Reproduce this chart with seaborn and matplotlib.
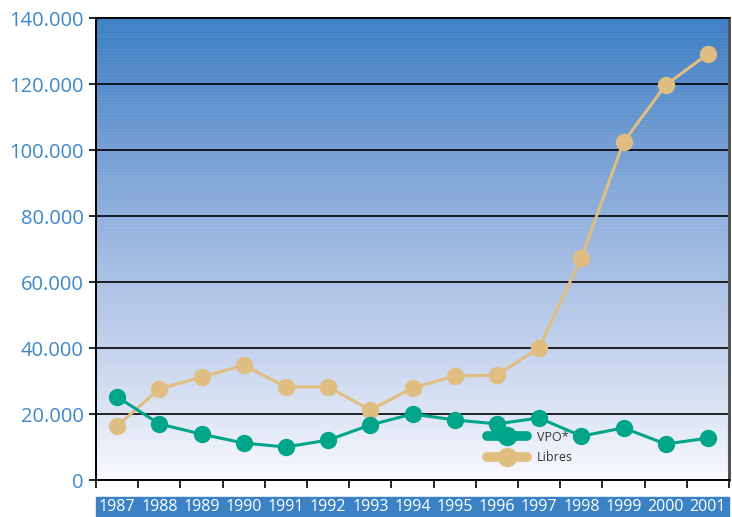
import matplotlib
matplotlib.use("Agg")
import matplotlib.pyplot as plt
import numpy as np
import pandas as pd
import seaborn as sns
from matplotlib.colors import LinearSegmentedColormap
from matplotlib.lines import Line2D
from matplotlib.patches import Rectangle

years = [str(y) for y in range(1987, 2002)]
vpo = [25200, 17000, 13900, 11200, 10000, 12100, 16700, 20000,
       18200, 17000, 18800, 13300, 15800, 10900, 12700]
libres = [16400, 27600, 31200, 34800, 28200, 28200, 21200, 27900,
          31500, 31800, 40000, 67300, 102400, 119700, 129100]
y_ticks = [0, 20000, 40000, 60000, 80000, 100000, 120000, 140000]
y_labels = ["0", "20.000", "40.000", "60.000", "80.000", "100.000", "120.000", "140.000"]

TEAL = "#00a58a"
TAN = "#e0bd80"
BLUE_TXT = "#3d87c8"

sns.set_style("white")
plt.rcParams["font.family"] = ["Open Sans", "DejaVu Sans"]

df = pd.DataFrame({
    "year": years * 2,
    "value": vpo + libres,
    "serie": ["VPO*"] * len(years) + ["Libres"] * len(years),
})

fig = plt.figure(figsize=(7.32, 5.17), dpi=100)

# blue band behind the year labels
fig.patches.append(Rectangle((96 / 732, 0), 633 / 732, 20 / 517,
                             transform=fig.transFigure, color="#3a82c4", zorder=-5))

ax = fig.add_axes([96 / 732, 37 / 517, 633 / 732, 462 / 517])

# gradient background with faint stripes
cmap = LinearSegmentedColormap.from_list(
    "bg", ["#f8f9fd", "#c9d6ee", "#9fb9e2", "#6d9ad2", "#3b7fc3"])
rows = 300
grad = np.linspace(0, 1, rows)
stripes = np.where(np.arange(rows) % 2 == 0, 0.0, 0.04)
img = np.clip(grad - stripes * grad, 0, 1)[:, None]
ax.imshow(img, aspect="auto", cmap=cmap, origin="lower",
          extent=(-0.5, 14.5, 0, 140000), zorder=0, interpolation="nearest")

for t in y_ticks[1:-1]:
    ax.axhline(t, color="black", lw=1.2, zorder=1)

sns.lineplot(data=df, x="year", y="value", hue="serie",
             palette={"VPO*": TEAL, "Libres": TAN},
             hue_order=["Libres", "VPO*"],
             marker="o", markersize=12.5, markeredgewidth=0,
             linewidth=2.2, ax=ax, legend=False, zorder=3)

ax.set_xlim(-0.5, 14.5)
ax.set_ylim(0, 140000)
ax.set_xlabel("")
ax.set_ylabel("")
ax.set_yticks(y_ticks)
ax.set_yticklabels(y_labels, color=BLUE_TXT, fontsize=14.5)
ax.tick_params(axis="y", length=5, width=1.2, color="black", left=True, pad=4)

ax.set_xticks(range(len(years)))
ax.set_xticklabels(years, color="white", fontsize=11.5)
ax.set_xticks(np.arange(-0.5, 15, 1), minor=True)
ax.tick_params(axis="x", which="major", length=0, pad=14)
ax.tick_params(axis="x", which="minor", length=6, width=1.2, color="black", bottom=True)

for side in ["left", "bottom", "top"]:
    ax.spines[side].set_color("black")
    ax.spines[side].set_linewidth(1.4)
ax.spines["right"].set_color("#555555")
ax.spines["right"].set_linewidth(2.2)

handles = [
    Line2D([], [], color=TEAL, lw=7, marker="o", markersize=13),
    Line2D([], [], color=TAN, lw=7, marker="o", markersize=13),
]
leg = ax.legend(handles, ["VPO*", "Libres"], loc="lower left",
                bbox_to_anchor=(0.6, 0.01), frameon=False, fontsize=9,
                handlelength=3.2, labelspacing=0.6, handletextpad=0.8)
for txt in leg.get_texts():
    txt.set_color("#333333")

fig.savefig("out.png", dpi=100)
